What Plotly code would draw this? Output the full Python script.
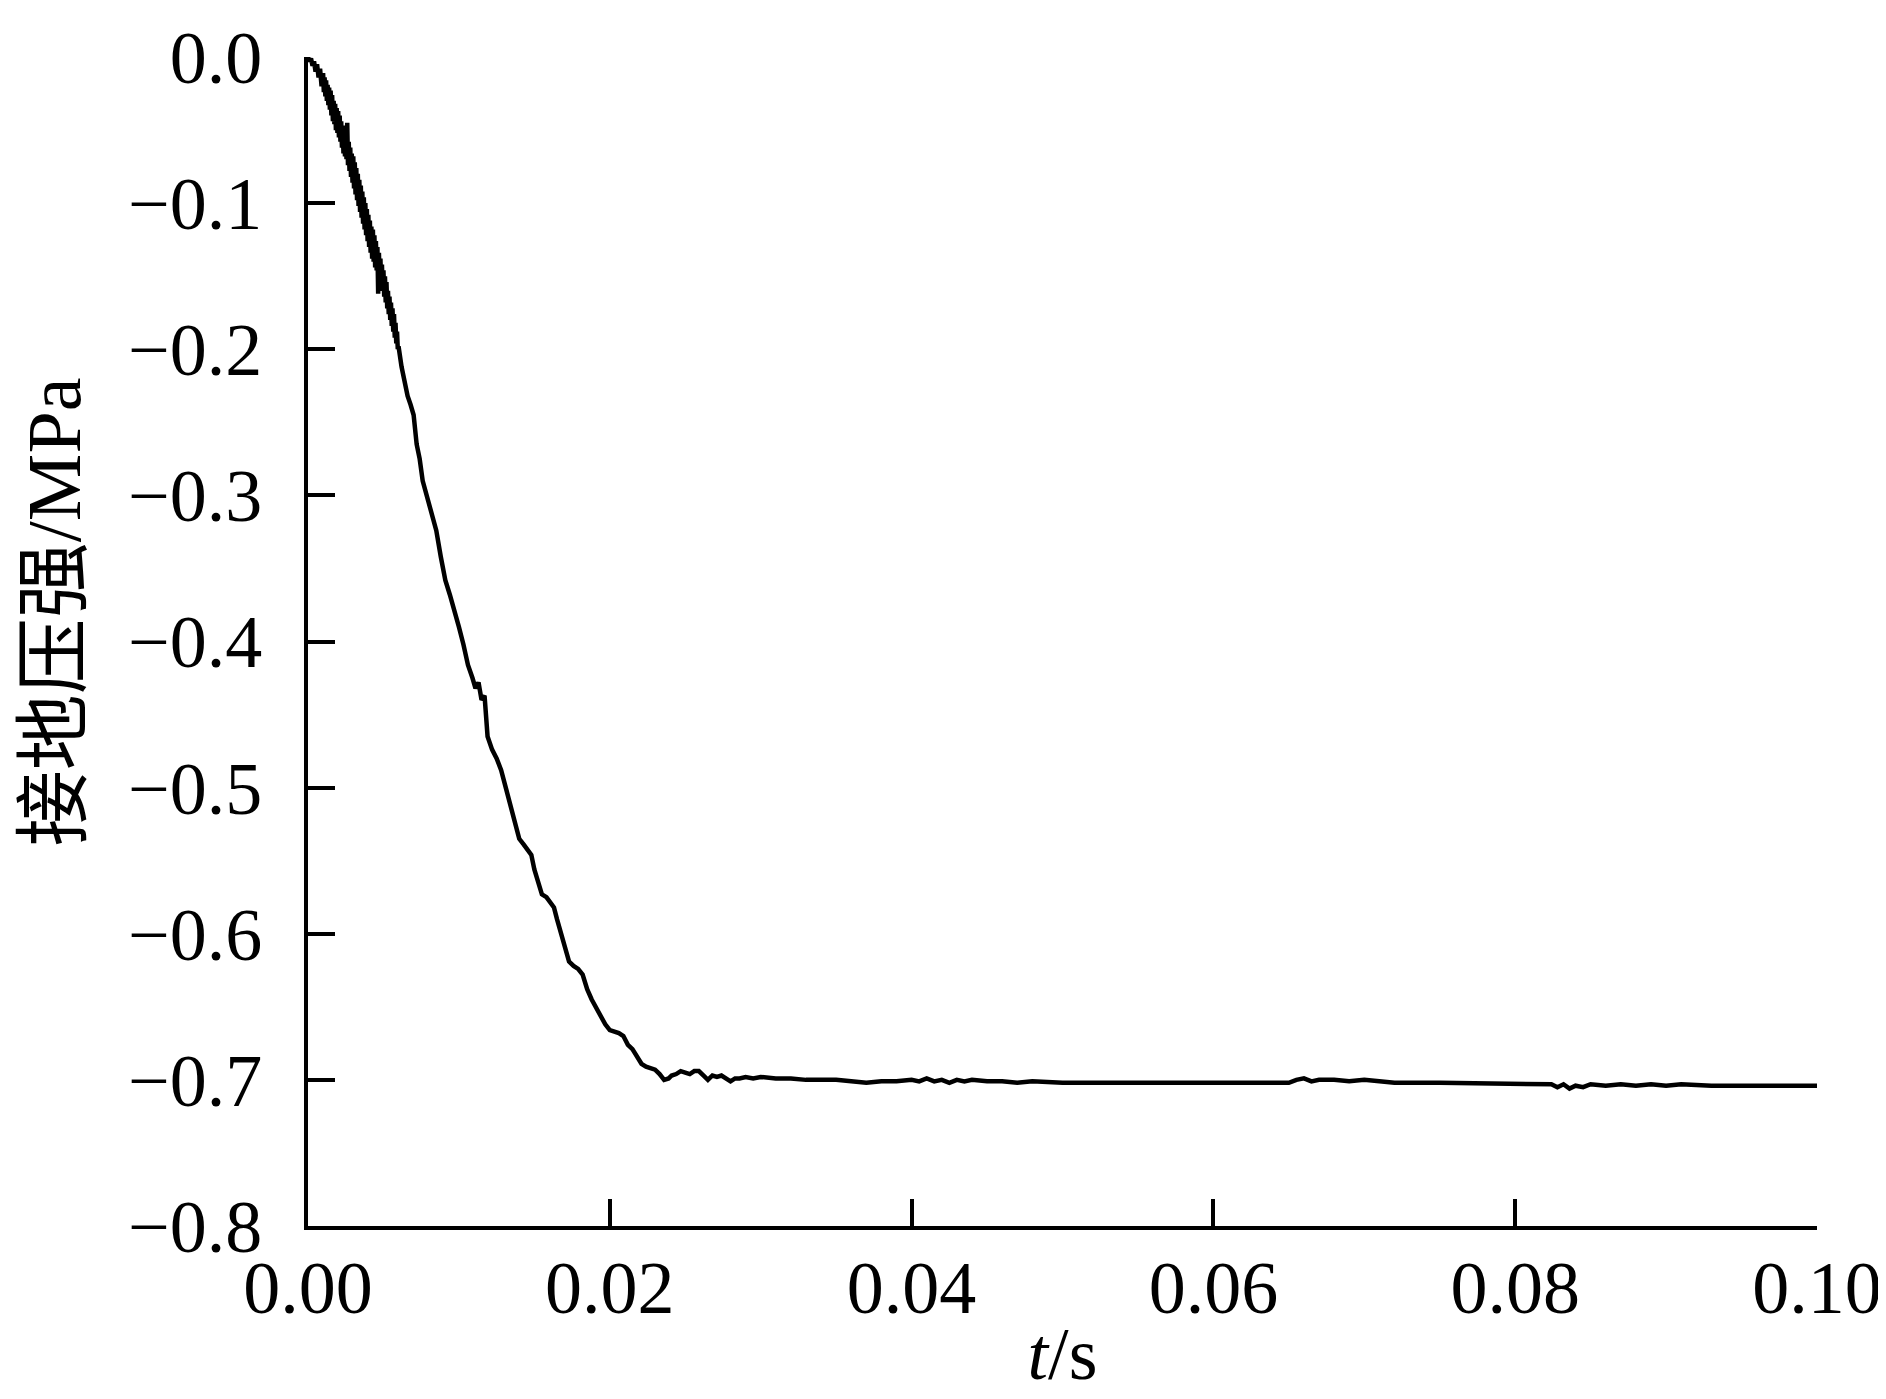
import plotly.graph_objects as go

# ---- data ----
t_early = [0.00000, 0.00010, 0.00020, 0.00030, 0.00040, 0.00050, 0.00060, 0.00070, 0.00080, 0.00090,
           0.00100, 0.00105, 0.00110, 0.00115, 0.00120, 0.00125, 0.00130, 0.00135, 0.00140, 0.00145,
           0.00150, 0.00155, 0.00160, 0.00165, 0.00170, 0.00175, 0.00180, 0.00185, 0.00190, 0.00195,
           0.00200, 0.00205, 0.00210, 0.00215, 0.00220, 0.00225, 0.00230, 0.00235, 0.00240, 0.00245,
           0.00250, 0.00255, 0.00260, 0.00265, 0.00270, 0.00275, 0.00280, 0.00285, 0.00290, 0.00295,
           0.00300, 0.00305, 0.00310, 0.00315, 0.00320, 0.00325, 0.00330, 0.00335, 0.00340, 0.00345,
           0.00350, 0.00355, 0.00360, 0.00365, 0.00370, 0.00375, 0.00380, 0.00385, 0.00390, 0.00395,
           0.00400, 0.00405, 0.00410, 0.00415, 0.00420, 0.00425, 0.00430, 0.00435, 0.00440, 0.00445,
           0.00450, 0.00455, 0.00460, 0.00465, 0.00470, 0.00475, 0.00480, 0.00485, 0.00490, 0.00495,
           0.00500, 0.00505, 0.00510, 0.00515, 0.00520, 0.00525, 0.00530, 0.00535, 0.00540, 0.00545,
           0.00550, 0.00555, 0.00560, 0.00565, 0.00570, 0.00575, 0.00580, 0.00585, 0.00590, 0.00595,
           0.00600]
p_early = [0.000, -0.003, -0.001, -0.006, -0.003, -0.010, -0.005, -0.014, -0.008, -0.020,
           -0.011, -0.024, -0.014, -0.027, -0.016, -0.030, -0.019, -0.033, -0.021, -0.036,
           -0.023, -0.040, -0.026, -0.044, -0.030, -0.046, -0.032, -0.050, -0.035, -0.052,
           -0.037, -0.055, -0.040, -0.058, -0.044, -0.062, -0.047, -0.066, -0.050, -0.068,
           -0.052, -0.070, -0.045, -0.074, -0.058, -0.078, -0.062, -0.082, -0.066, -0.086,
           -0.068, -0.090, -0.072, -0.094, -0.076, -0.098, -0.080, -0.102, -0.084, -0.106,
           -0.088, -0.110, -0.092, -0.114, -0.096, -0.118, -0.100, -0.122, -0.104, -0.126,
           -0.108, -0.130, -0.112, -0.134, -0.116, -0.138, -0.118, -0.140, -0.122, -0.144,
           -0.126, -0.146, -0.130, -0.162, -0.134, -0.152, -0.138, -0.156, -0.142, -0.160,
           -0.146, -0.164, -0.150, -0.168, -0.154, -0.172, -0.160, -0.176, -0.164, -0.180,
           -0.168, -0.184, -0.172, -0.188, -0.176, -0.192, -0.182, -0.196, -0.188, -0.200,
           -0.198]

t_main = [0.0062, 0.0064, 0.0066, 0.0068, 0.0070, 0.0072, 0.0074, 0.0076, 0.0079, 0.0082,
          0.0085, 0.0088, 0.0091, 0.0094, 0.0097, 0.0100, 0.0103, 0.0106, 0.0109, 0.0111,
          0.0113, 0.0115, 0.0117, 0.0119, 0.0122, 0.0125, 0.0128, 0.0131, 0.0134, 0.0137,
          0.0140, 0.0143, 0.0146, 0.0148, 0.0150, 0.0153, 0.0155, 0.0158, 0.0160, 0.0163,
          0.0165, 0.0168, 0.0171, 0.0173, 0.0176, 0.0179, 0.0182, 0.0185, 0.0188, 0.0191,
          0.0194, 0.0197, 0.0200, 0.0203, 0.0206, 0.0209, 0.0212, 0.0215, 0.0218, 0.0221,
          0.0224, 0.0227, 0.0230, 0.0233, 0.0236, 0.0239, 0.0241, 0.0244, 0.0247, 0.0250,
          0.0253, 0.0256, 0.0259, 0.0262, 0.0265, 0.0268, 0.0271, 0.0274, 0.0277, 0.0280,
          0.0283, 0.0286, 0.0290, 0.0295, 0.0300, 0.0310, 0.0320, 0.0330, 0.0340, 0.0350,
          0.0360, 0.0370, 0.0380, 0.0390, 0.0400, 0.0405, 0.0410, 0.0415, 0.0420, 0.0425,
          0.0430, 0.0435, 0.0440, 0.0450, 0.0460, 0.0470, 0.0480, 0.0500, 0.0550, 0.0600,
          0.0650, 0.0655, 0.0660, 0.0665, 0.0670, 0.0680, 0.0690, 0.0700, 0.0710, 0.0720,
          0.0750, 0.0800, 0.0824, 0.0828, 0.0832, 0.0836, 0.0840, 0.0845, 0.0850, 0.0860,
          0.0870, 0.0880, 0.0890, 0.0900, 0.0910, 0.0930, 0.0950, 0.1000]
p_main = [-0.212, -0.224, -0.232, -0.238, -0.245, -0.265, -0.275, -0.290, -0.302, -0.312,
          -0.324, -0.342, -0.358, -0.368, -0.378, -0.390, -0.402, -0.416, -0.425, -0.432,
          -0.428, -0.440, -0.437, -0.465, -0.474, -0.480, -0.488, -0.500, -0.514, -0.526,
          -0.535, -0.539, -0.543, -0.546, -0.556, -0.566, -0.573, -0.575, -0.578, -0.582,
          -0.590, -0.600, -0.612, -0.619, -0.622, -0.624, -0.628, -0.638, -0.645, -0.651,
          -0.656, -0.662, -0.666, -0.667, -0.668, -0.670, -0.676, -0.679, -0.684, -0.689,
          -0.691, -0.692, -0.693, -0.696, -0.700, -0.699, -0.697, -0.696, -0.694, -0.695,
          -0.696, -0.694, -0.694, -0.697, -0.700, -0.697, -0.698, -0.697, -0.699, -0.701,
          -0.699, -0.699, -0.698, -0.699, -0.698, -0.699, -0.699, -0.700, -0.700, -0.700,
          -0.701, -0.702, -0.701, -0.701, -0.700, -0.701, -0.699, -0.701, -0.700, -0.702,
          -0.700, -0.701, -0.700, -0.701, -0.701, -0.702, -0.701, -0.702, -0.702, -0.702,
          -0.702, -0.700, -0.699, -0.701, -0.700, -0.700, -0.701, -0.700, -0.701, -0.702,
          -0.702, -0.703, -0.703, -0.705, -0.703, -0.706, -0.704, -0.705, -0.703, -0.704,
          -0.703, -0.704, -0.703, -0.704, -0.703, -0.704, -0.704, -0.704]

x_ticks = [0.00, 0.02, 0.04, 0.06, 0.08, 0.10]
y_ticks = [0.0, -0.1, -0.2, -0.3, -0.4, -0.5, -0.6, -0.7, -0.8]
x_title = "<i>t</i>/s"
y_title = "接地压强/MPa"

t_all = t_early + t_main
p_all = p_early + p_main

FONT = "Liberation Serif, Times New Roman, Noto Sans CJK SC, serif"

fig = go.Figure()
fig.add_trace(go.Scatter(x=t_all, y=p_all, mode="lines",
                         line=dict(color="black", width=4.5), showlegend=False))

# page body has an 8px default margin: figure sized/offset to compensate
fig.update_layout(
    width=1878, height=1391,
    margin=dict(l=300, r=69, t=49, b=173),
    paper_bgcolor="white", plot_bgcolor="white",
    font=dict(family=FONT, size=74, color="black"),
    xaxis=dict(range=[0, 0.1], tickvals=x_ticks, tickformat=".2f",
               showline=True, linecolor="black", linewidth=4,
               ticks="inside", ticklen=27, tickwidth=4, tickcolor="black",
               showgrid=False, zeroline=False, ticklabelstandoff=-6, automargin=False,
               title=dict(text=x_title, font=dict(family=FONT, size=74), standoff=0)),
    yaxis=dict(range=[-0.8, 0], tickvals=y_ticks, tickformat=".1f",
               showline=True, linecolor="black", linewidth=4,
               ticks="inside", ticklen=27, tickwidth=4, tickcolor="black",
               showgrid=False, zeroline=False, ticklabelstandoff=27, automargin=False),
    annotations=[dict(text=y_title, textangle=-90, xref="paper", yref="paper",
                      x=0, y=0.525, xanchor="center", yanchor="middle", xshift=-254,
                      showarrow=False, font=dict(family=FONT, size=76, color="black"))],
)

fig.write_html("out.html")
